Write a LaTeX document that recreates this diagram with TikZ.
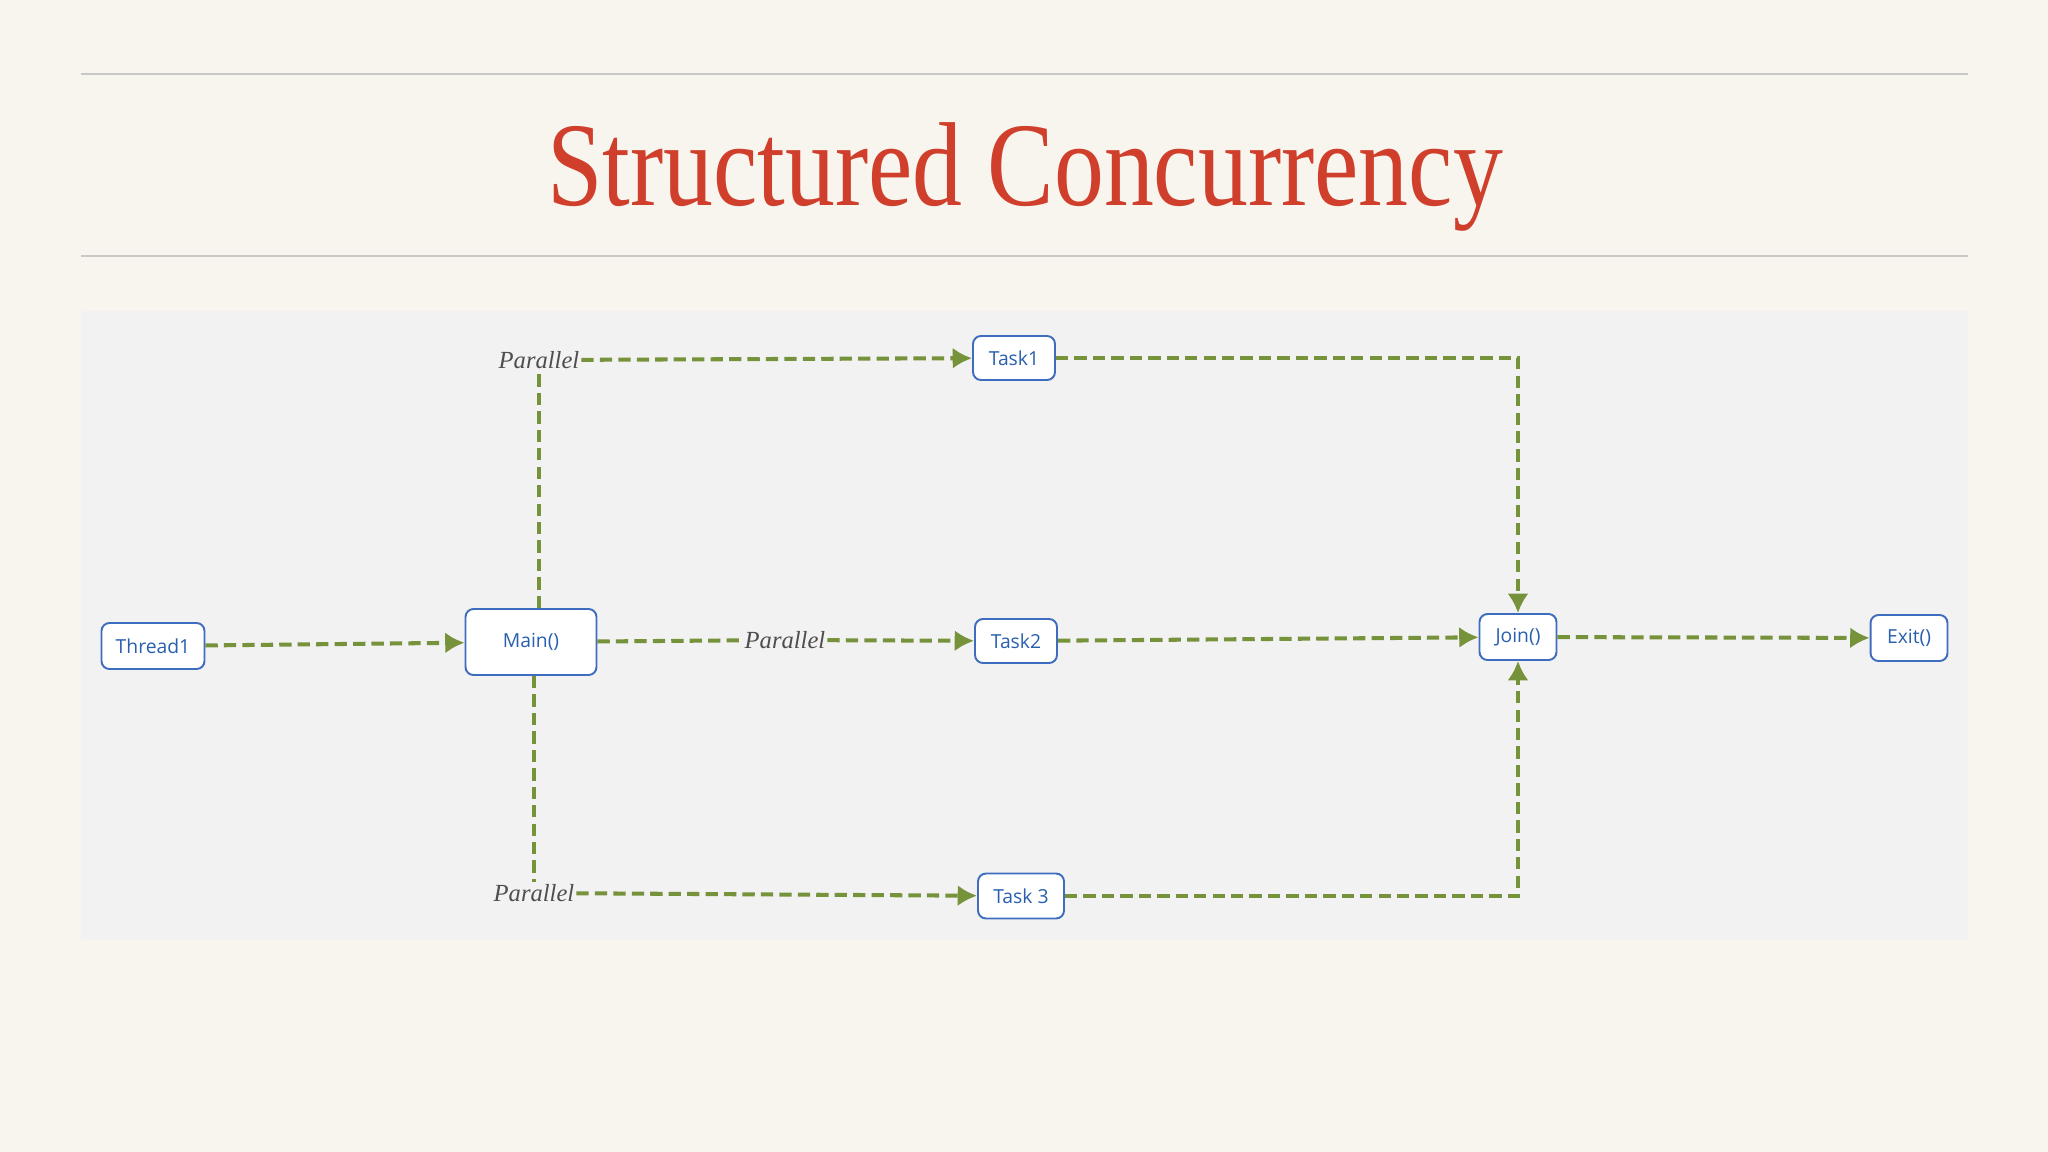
\documentclass[tikz,border=0pt]{standalone}
\usepackage{fontspec}
\usepackage{xcolor}
\usetikzlibrary{arrows.meta,positioning,calc}
\newfontfamily\boxfont{Open Sans}
\newfontfamily\titlefont{Liberation Serif}
\definecolor{slidebg}{RGB}{247,245,238}
\definecolor{panelbg}{RGB}{242,242,242}
\definecolor{rulegrey}{RGB}{200,200,198}
\definecolor{titlered}{RGB}{208,62,44}
\definecolor{boxblue}{RGB}{62,108,190}
\definecolor{textblue}{RGB}{40,95,175}
\definecolor{flowgreen}{RGB}{118,146,58}
\definecolor{pargrey}{RGB}{78,78,78}
\tikzset{
  taskbox/.style={draw=boxblue,line width=1.1pt,fill=white,rounded corners=0.16cm,
    text=textblue,font=\boxfont\fontsize{11pt}{13pt}\selectfont,inner sep=2pt},
  parlabel/.style={text=pargrey,font=\titlefont\fontsize{14pt}{16pt}\selectfont\itshape,inner sep=1pt},
  flow/.style={draw=flowgreen,line width=2.3pt,dash pattern=on 7pt off 3.5pt},
  flowarrow/.style={flow,-{Latex[length=11pt,width=12pt]}}
}
\begin{document}
\begin{tikzpicture}[x=0.02cm,y=-0.02cm]
		\fill[slidebg] (0,0) rectangle (2048,1152);
		\useasboundingbox (0,0) rectangle (2048,1152);
		\draw[rulegrey,line width=0.7pt] (81,74) -- (1968,74);
		\draw[rulegrey,line width=0.7pt] (81,256) -- (1968,256);
		\node[anchor=base] (title) at (1025,206) {\scalebox{0.835}[1]{\titlefont\fontsize{68pt}{70pt}\selectfont\textcolor{titlered}{Structured Concurrency}}};
		\fill[panelbg] (81,311) rectangle (1968,940);
		\node[taskbox,minimum width=2.06cm,minimum height=0.92cm] (thread) at (153,646) {Thread1};
		\node[taskbox,minimum width=2.62cm,minimum height=1.32cm] (main) at (531,642) {Main()};
		\node[taskbox,minimum width=1.64cm,minimum height=0.88cm] (taskA) at (1014,358) {Task1};
		\node[taskbox,minimum width=1.64cm,minimum height=0.88cm] (taskB) at (1016,641) {Task2};
		\node[taskbox,minimum width=1.72cm,minimum height=0.9cm] (taskC) at (1021,896) {Task 3};
		\node[taskbox,minimum width=1.54cm,minimum height=0.92cm] (join) at (1518,637) {Join()};
		\node[taskbox,minimum width=1.54cm,minimum height=0.92cm] (exit) at (1909,638) {Exit()};
		\node[parlabel] (parA) at (539,360) {Parallel};
		\node[parlabel] (parB) at (785,640) {Parallel};
		\node[parlabel] (parC) at (534,893) {Parallel};
		\draw[flowarrow] (thread) -- (main);
		\draw[flow] (parA.south |- main.north) -- (parA.south);
		\draw[flowarrow] (parA) -- (taskA);
		\draw[flow] (main) -- (parB);
		\draw[flowarrow] (parB) -- (taskB);
		\draw[flow] (parC.north |- main.south) -- (parC.north);
		\draw[flowarrow] (parC) -- (taskC);
		\draw[flowarrow] (taskA) -| (join);
		\draw[flowarrow] (taskB) -- (join);
		\draw[flowarrow] (taskC) -| (join);
		\draw[flowarrow] (join) -- (exit);
	\end{tikzpicture}
\end{document}
